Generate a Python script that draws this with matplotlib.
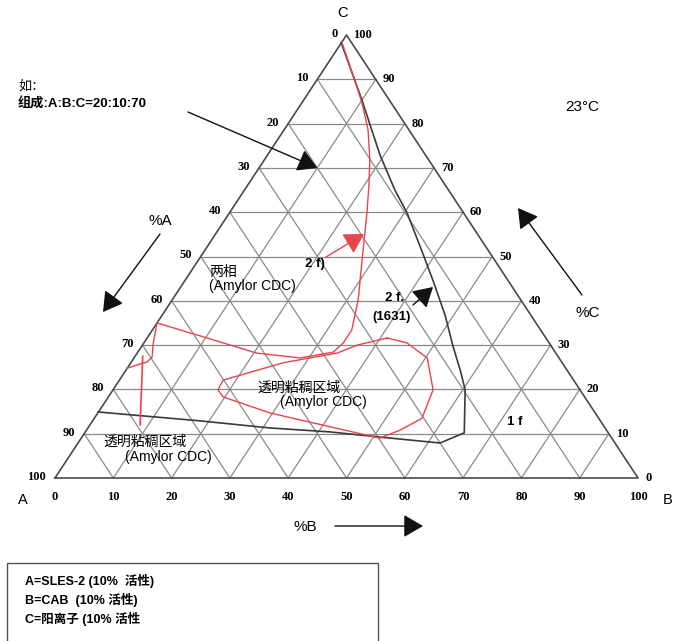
import numpy as np
import matplotlib.pyplot as plt
from matplotlib.patches import Rectangle

plt.rcParams['font.family'] = ['Liberation Sans', 'Noto Sans CJK SC']

# compositions as (%B, %C); %A = 100 - B - C
ticks = np.arange(0, 101, 10)

# black boundary of the 1-phase / 2-phase (1631) region
one_f_b = [0, 10, 19.3, 25.8, 30.5, 37.5, 43, 48.5, 53.5, 57.3, 60.4, 65.1, 62.1, 50.6, 42.0, 31.2, 18.4, 0]
one_f_c = [98.2, 85.3, 72.9, 65.0, 59.8, 51.0, 44.0, 36.8, 29.6, 24.4, 19.9, 10.2, 7.9, 9.3, 10.4, 11.3, 12.9, 14.9]

# red boundary of the 2-phase (Amylor CDC) region
two_f_b = [0.3, 6.5, 10.3, 14.4, 18.1, 20.8, 23.6, 27.1, 31.9, 34.2, 34.2, 33.5, 28.5, 20.5, 8.8, 0,
           1.6, 3.0, 2.7, 1.3, 0]
two_f_c = [98.0, 89.8, 84.7, 78.6, 71.8, 66.1, 59.8, 51.5, 40.2, 33.4, 30.5, 28.4, 27.1, 28.2, 32.1, 35.0,
           30.5, 27.3, 26.2, 25.5, 24.8]

# red tie line near the A corner
tie_b = [1.3, 8.6]
tie_c = [27.5, 12.0]

# red loop of the clear viscous region
gel_b = [41.2, 45.1, 50.3, 54.9, 56.2, 53.8, 51.2, 32.9, 29.5, 19.7, 18.0, 17.8, 26.1, 34.3, 36.8, 41.2]
gel_c = [31.6, 30.5, 27.1, 19.9, 13.5, 10.8, 9.0, 13.8, 14.7, 18.3, 19.9, 22.1, 26.0, 28.2, 30.0, 31.6]

# example point A:B:C = 20:10:70
example_b, example_c = 10, 70

legend_lines = ['A=SLES-2 (10%  活性)', 'B=CAB  (10% 活性)', 'C=阳离子 (10% 活性']

# triangle placement on the canvas
X0, Y0, W, H = 55, 478, 583, 443


def tern(b, c):
    b = np.asarray(b, float)
    c = np.asarray(c, float)
    return X0 + W * (b + c / 2) / 100, Y0 - H * c / 100


fig = plt.figure(figsize=(6.73, 6.41), dpi=100)
ax = fig.add_axes([0, 0, 1, 1])
ax.set_xlim(0, 673)
ax.set_ylim(641, 0)
ax.axis('off')

grid = dict(color='#8a8a8a', lw=0.9, zorder=1)
for v in ticks[1:-1]:
    ax.plot(*tern([0, 100 - v], [v, v]), **grid)
    ax.plot(*tern([v, v], [0, 100 - v]), **grid)
    ax.plot(*tern([100 - v, 0], [0, 100 - v]), **grid)
ax.plot(*tern([0, 100, 0, 0], [0, 0, 100, 0]), color='#4a4a4a', lw=1.2, zorder=2)

tick_font = dict(family='Liberation Serif', fontweight='bold', fontsize=9, va='center')
for v in ticks:
    x, y = tern(0, 100 - v)
    ax.text(x - 9, y - 1, str(v), ha='right', **tick_font)
    x, y = tern(100 - v, v)
    ax.text(x + 7, y, str(v), ha='left', **tick_font)
    x, y = tern(v, 0)
    ax.text(x, y + 19, str(v), ha='center', **tick_font)

ax.text(343, 13, 'C', fontsize=10.5, ha='center', va='center')
ax.text(23, 500, 'A', fontsize=10.5, ha='center', va='center')
ax.text(668, 500, 'B', fontsize=10.5, ha='center', va='center')

ax.plot(*tern(one_f_b, one_f_c), color='#3a3a3a', lw=1.2, zorder=3)
red = '#e8444e'
ax.plot(*tern(two_f_b, two_f_c), color=red, lw=1.0, zorder=3)
ax.plot(*tern(tie_b, tie_c), color=red, lw=1.2, zorder=3)
ax.plot(*tern(gel_b, gel_c), color=red, lw=1.0, zorder=3)

arrow = dict(arrowstyle='-|>,head_length=0.6,head_width=0.35', color='#111', lw=1.0,
             mutation_scale=20, shrinkA=0, shrinkB=0)
ax.annotate('', xy=tern(example_b, example_c), xytext=(188, 112), arrowprops=arrow)
ax.text(18, 86, '如：', fontsize=9.5, va='center')
ax.text(18, 103, '组成:A:B:C=20:10:70', fontsize=9.5, fontweight='bold', va='center')

ax.text(582, 107, '23°C', fontsize=11, ha='center', va='center')

ax.text(160, 221, '%A', fontsize=11, ha='center', va='center')
ax.annotate('', xy=(103, 312), xytext=(160, 234), arrowprops=arrow)
ax.text(588, 313, '%C', fontsize=11, ha='center', va='center')
ax.annotate('', xy=(518, 208), xytext=(582, 295), arrowprops=arrow)
ax.text(305, 527, '%B', fontsize=11, ha='center', va='center')
ax.annotate('', xy=(423, 526), xytext=(335, 526), arrowprops=arrow)

ax.text(209, 272, '两相', fontsize=10, va='center')
ax.text(209, 286, '(Amylor CDC)', fontsize=10, va='center')
ax.text(315, 264, '2 f)', fontsize=9.5, fontweight='bold', ha='center', va='center')
red_arrow = dict(arrow, color=red)
ax.annotate('', xy=(364, 234), xytext=(326, 257), arrowprops=red_arrow)

ax.text(395, 298, '2 f.', fontsize=9.5, fontweight='bold', ha='center', va='center')
ax.text(392, 317, '(1631)', fontsize=9.5, fontweight='bold', ha='center', va='center')
ax.annotate('', xy=(433, 287), xytext=(413, 305), arrowprops=arrow)

ax.text(257, 388, '透明粘稠区域', fontsize=10, va='center')
ax.text(280, 402, '(Amylor CDC)', fontsize=10, va='center')
ax.text(103, 442, '透明粘稠区域', fontsize=10, va='center')
ax.text(125, 457, '(Amylor CDC)', fontsize=10, va='center')
ax.text(515, 422, '1 f', fontsize=9.5, fontweight='bold', ha='center', va='center')

ax.add_patch(Rectangle((7, 563), 371, 90, fill=False, ec='#555', lw=1))
for i, line in enumerate(legend_lines):
    ax.text(25, 581 + 19 * i, line, fontsize=9, fontweight='bold', va='center')

fig.savefig('out.png', dpi=100)
